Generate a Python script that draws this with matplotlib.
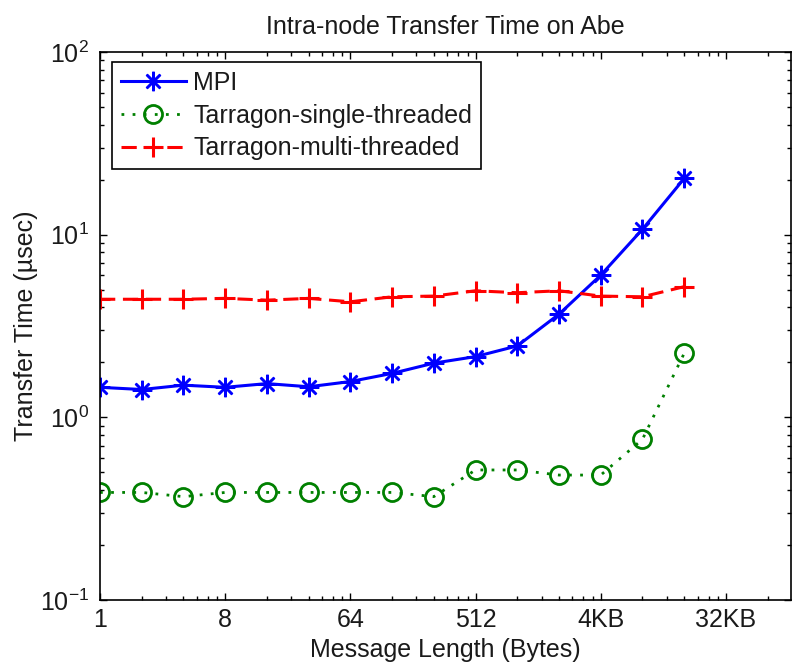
import numpy as np
import matplotlib
matplotlib.use("Agg")
import matplotlib.pyplot as plt
from matplotlib.ticker import FixedLocator, NullFormatter, LogLocator

plt.rcParams['font.family'] = ['Liberation Sans', 'DejaVu Sans']
plt.rcParams['mathtext.fontset'] = 'custom'
plt.rcParams['mathtext.rm'] = 'Liberation Sans'
plt.rcParams['mathtext.it'] = 'Liberation Sans'
plt.rcParams['axes.unicode_minus'] = False

# ---- data ----
msg_bytes = [1, 2, 4, 8, 16, 32, 64, 128, 256, 512, 1024, 2048, 4096, 8192, 16384]
mpi = [1.46, 1.42, 1.50, 1.46, 1.53, 1.47, 1.57, 1.74, 1.98, 2.15, 2.46, 3.67, 6.0, 10.7, 20.3]
tarragon_single = [0.388, 0.388, 0.368, 0.388, 0.388, 0.388, 0.388, 0.388, 0.368,
                   0.515, 0.515, 0.483, 0.483, 0.758, 2.24]
tarragon_multi = [4.43, 4.43, 4.43, 4.48, 4.38, 4.48, 4.29, 4.57, 4.61, 4.93, 4.81,
                  4.93, 4.61, 4.57, 5.19]

xtick_vals = [1, 8, 64, 512, 4096, 32768]
xtick_labels = ['1', '8', '64', '512', '4KB', '32KB']

FS = 18
TXT = '#1a1a1a'

fig = plt.figure(figsize=(7.92, 6.68), dpi=100)
ax = fig.add_axes([100 / 792, 68 / 668, 691 / 792, 548 / 668])

ax.plot(msg_bytes, mpi, color='blue', linestyle='-', linewidth=2.2,
        marker=(8, 2, 0), markersize=14, markeredgewidth=1.8, label='MPI')
ax.plot(msg_bytes, tarragon_single, color='green', linestyle=(0, (1, 3)), linewidth=2.0,
        marker='o', markersize=13, markerfacecolor='none', markeredgewidth=2.0,
        label='Tarragon-single-threaded')
ax.plot(msg_bytes, tarragon_multi, color='red', linestyle=(0, (5, 2.5)), linewidth=2.2,
        marker='+', markersize=15, markeredgewidth=2.2, label='Tarragon-multi-threaded')

ax.set_xscale('log', base=2)
ax.set_yscale('log')
ax.set_xlim(1, 2 ** 16.56)
ax.set_ylim(0.1, 100)

ax.xaxis.set_major_locator(FixedLocator(xtick_vals))
ax.set_xticklabels(xtick_labels)
minor_x = [s * 8 ** k for k in range(6) for s in range(2, 8)]
ax.xaxis.set_minor_locator(FixedLocator(minor_x))
ax.xaxis.set_minor_formatter(NullFormatter())
ax.yaxis.set_major_locator(LogLocator(base=10, numticks=10))
ax.yaxis.set_minor_locator(LogLocator(base=10, subs=np.arange(2, 10), numticks=20))
ax.yaxis.set_minor_formatter(NullFormatter())

ax.tick_params(which='both', direction='in', top=True, right=True, labelsize=FS,
               width=1.0, colors='black', labelcolor=TXT)
ax.tick_params(which='major', length=5)
ax.tick_params(which='minor', length=3)
ax.tick_params(axis='x', which='major', pad=6)
ax.tick_params(axis='y', which='major', pad=8)

for sp in ax.spines.values():
    sp.set_linewidth(1.2)
    sp.set_color('black')

ax.set_title('Intra-node Transfer Time on Abe', fontsize=FS, pad=13, color=TXT)
ax.set_xlabel('Message Length (Bytes)', fontsize=FS, labelpad=4, color=TXT)
ax.set_ylabel('Transfer Time (\u00b5sec)', fontsize=FS, color=TXT)
ax.yaxis.set_label_coords(-0.09, 0.5)

leg = ax.legend(loc='upper left', bbox_to_anchor=(12 / 691, 1 - 10 / 548), fontsize=FS,
                frameon=True, fancybox=False, edgecolor='black', framealpha=1,
                numpoints=1, handlelength=2.6, handletextpad=0.3, labelspacing=0.35,
                borderpad=0.35, borderaxespad=0)
leg.get_frame().set_linewidth(1.2)
for t in leg.get_texts():
    t.set_color(TXT)

fig.savefig('out.png', dpi=100)
